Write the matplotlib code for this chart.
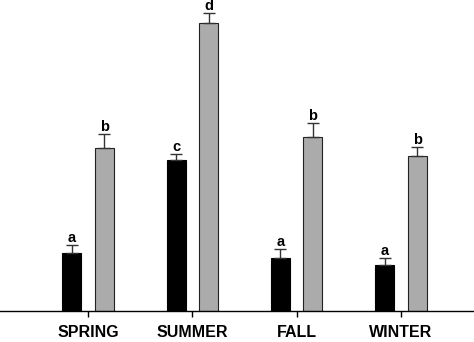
import numpy as np
import matplotlib.pyplot as plt

# seasons and the two series (arbitrary units)
seasons = ['SPRING', 'SUMMER', 'FALL', 'WINTER']
black_vals = [58, 151, 53, 46]
black_err = [8, 6, 9, 7]
gray_vals = [163, 288, 174, 155]
gray_err = [14, 10, 14, 9]
black_letters = ['a', 'c', 'a', 'a']
gray_letters = ['b', 'd', 'b', 'b']

plt.rcParams['font.family'] = ['Liberation Sans', 'DejaVu Sans']

fig = plt.figure(figsize=(4.74, 3.42), dpi=100)
ax = fig.add_axes([0, 31 / 342, 1, 311 / 342])

x = np.arange(len(seasons))
w = 0.18
off = 0.155

ax.bar(x - off, black_vals, w, color='black', edgecolor='black', linewidth=0.8)
ax.bar(x + off, gray_vals, w, color='#ababab', edgecolor='#222222', linewidth=0.8)
ax.errorbar(x - off, black_vals, yerr=[np.zeros(4), black_err], fmt='none',
            ecolor='#333333', elinewidth=1, capsize=4, capthick=1)
ax.errorbar(x + off, gray_vals, yerr=[np.zeros(4), gray_err], fmt='none',
            ecolor='#333333', elinewidth=1, capsize=4, capthick=1)

for xi, v, e, t in zip(x - off, black_vals, black_err, black_letters):
    ax.text(xi, v + e, t, ha='center', va='bottom', fontsize=10.5, fontweight='bold')
for xi, v, e, t in zip(x + off, gray_vals, gray_err, gray_letters):
    ax.text(xi, v + e, t, ha='center', va='bottom', fontsize=10.5, fontweight='bold')

ax.set_xlim(-0.844, 3.70)
ax.set_ylim(0, 311)
ax.set_xticks(x)
ax.set_xticklabels(seasons, fontsize=11.5, fontweight='bold')
ax.tick_params(axis='x', length=4, width=1, pad=6)
ax.set_yticks([])
for s in ['top', 'right', 'left']:
    ax.spines[s].set_visible(False)
ax.spines['bottom'].set_linewidth(1)

plt.savefig('out.png', dpi=100)
